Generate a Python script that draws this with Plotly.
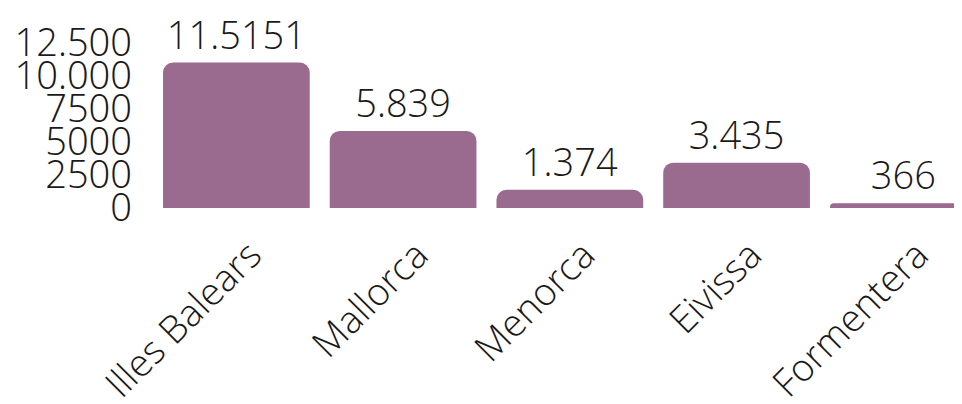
import plotly.graph_objects as go

categories = ["Illes Balears", "Mallorca", "Menorca", "Eivissa", "Formentera"]
values = [11014, 5839, 1374, 3435, 366]
value_labels = ["11.5151", "5.839", "1.374", "3.435", "366"]
tick_vals = [0, 2500, 5000, 7500, 10000, 12500]
tick_text = ["0", "2500", "5000", "7500", "10.000", "12.500"]

FONT = dict(family="Open Sans Light, Open Sans", size=38, color="#1a1a1a", weight=300)

fig = go.Figure(
    go.Bar(
        x=categories,
        y=values,
        text=value_labels,
        textposition="outside",
        textfont=FONT,
        cliponaxis=False,
        marker=dict(color="#9b6b8f", cornerradius=10, line=dict(width=0)),
        hoverinfo="skip",
    )
)

fig.update_layout(
    width=962,
    height=404,
    margin=dict(l=145, r=0, t=35, b=204),
    paper_bgcolor="white",
    plot_bgcolor="white",
    bargap=0.12,
    showlegend=False,
    font=FONT,
    xaxis=dict(
        range=[-0.5, 4.4],
        tickangle=-45,
        tickfont=FONT,
        showgrid=False,
        zeroline=False,
        showline=False,
        ticks="",
        ticklabelstandoff=16,
        ticklabelshift=14,
    ),
    yaxis=dict(
        range=[0, 12500],
        tickvals=tick_vals,
        ticktext=tick_text,
        tickfont=FONT,
        showgrid=False,
        zeroline=False,
        showline=False,
        ticks="",
        ticklabelstandoff=20,
    ),
)

fig.write_html("out.html")
